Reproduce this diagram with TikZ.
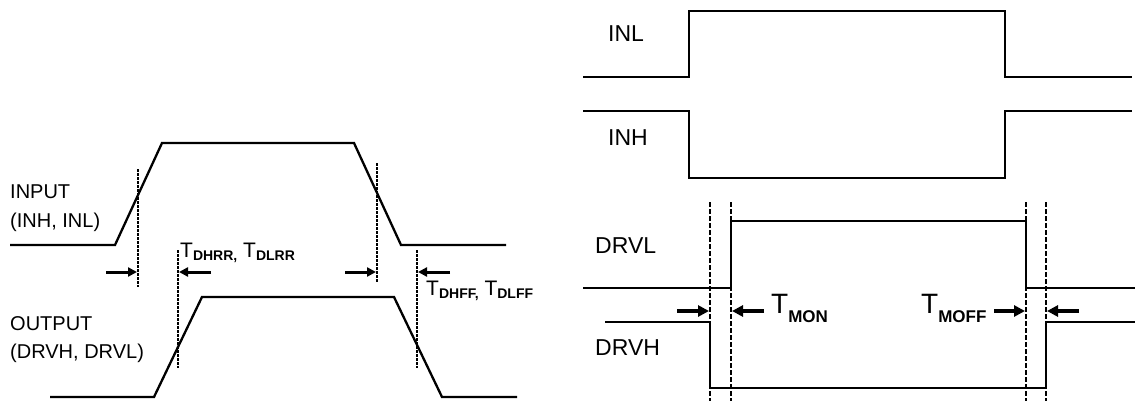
\documentclass[tikz,border=0pt]{standalone}
\usepackage{fontspec}
\setmainfont{Liberation Sans}
\usetikzlibrary{arrows.meta}
\newcommand{\sbx}[3]{\raisebox{-#3}{\fontsize{#2}{#2}\selectfont\bfseries #1}}
\begin{document}
\begin{tikzpicture}[x=1pt,y=-1pt,
  sig/.style={line width=2.3pt, line join=miter},
  sigthin/.style={line width=1.7pt, line join=miter},
  ldash/.style={line width=2.6pt, dash pattern=on 3pt off 1pt},
  rdash/.style={line width=1.4pt, dash pattern=on 4.5pt off 2.5pt},
  larrow/.style={line width=3pt, -{Triangle[length=9pt,width=9pt]}},
  rarrow/.style={line width=3.5pt, -{Triangle[length=11pt,width=11pt]}},
  lbl/.style={anchor=base west, inner sep=0pt, font=\fontsize{20}{24}\selectfont},
  rlbl/.style={anchor=base west, inner sep=0pt, font=\fontsize{23}{27}\selectfont},
  tlbl/.style={anchor=base west, inner sep=0pt, font=\fontsize{21}{24}\selectfont},
  tbig/.style={anchor=base west, inner sep=0pt, font=\fontsize{28}{30}\selectfont},
]
\useasboundingbox (0,0) rectangle (1137,401);

% ---------- left diagram ----------
\draw[sig] (10,245) -- (115,245) -- (162,143) -- (354,143) -- (401,245) -- (506,245);
\draw[sig] (50,397) -- (154,397) -- (202,297) -- (394,297) -- (442,397) -- (517,397);

\coordinate (d1t) at (138,169); \coordinate (d1b) at (138,287);
\coordinate (d2t) at (178,250); \coordinate (d2b) at (178,368);
\coordinate (d3t) at (377,163); \coordinate (d3b) at (377,283);
\coordinate (d4t) at (417,250); \coordinate (d4b) at (417,368);
\draw[ldash] (d1t) -- (d1b);
\draw[ldash] (d2t) -- (d2b);
\draw[ldash] (d3t) -- (d3b);
\draw[ldash] (d4t) -- (d4b);

\coordinate (a1s) at (106,272); \coordinate (a1e) at (137,272);
\coordinate (a2s) at (211,272); \coordinate (a2e) at (179,272);
\coordinate (a3s) at (345,272); \coordinate (a3e) at (376,272);
\coordinate (a4s) at (450,272); \coordinate (a4e) at (418,272);
\draw[larrow] (a1s) -- (a1e);
\draw[larrow] (a2s) -- (a2e);
\draw[larrow] (a3s) -- (a3e);
\draw[larrow] (a4s) -- (a4e);

\node[lbl] (in1) at (10,198) {INPUT};
\node[lbl] (in2) at (10,227) {(INH, INL)};
\node[lbl] (out1) at (10,330) {OUTPUT};
\node[lbl] (out2) at (10,358) {(DRVH, DRVL)};

\node[tlbl] (trr) at (180,257) {T\sbx{DHRR,}{14}{3pt} T\sbx{DLRR}{14}{3pt}};
\node[tlbl] (tff) at (426,295) {T\sbx{DHFF,}{14}{3pt} T\sbx{DLFF}{14}{3pt}};

% ---------- right diagram ----------
\draw[sig] (583,77) -- (689,77) -- (689,11) -- (1005,11) -- (1005,77) -- (1132,77);
\draw[sig] (583,111) -- (689,111) -- (689,178) -- (1005,178) -- (1005,111) -- (1132,111);

\draw[sigthin] (583,288) -- (731,288) -- (731,221) -- (1026,221) -- (1026,288) -- (1135,288);
\draw[sigthin] (605,322) -- (710,322) -- (710,388) -- (1046,388) -- (1046,322) -- (1135,322);

\coordinate (r1t) at (710,202); \coordinate (r1b) at (710,401);
\coordinate (r2t) at (731,202); \coordinate (r2b) at (731,401);
\coordinate (r3t) at (1026,202); \coordinate (r3b) at (1026,401);
\coordinate (r4t) at (1046,202); \coordinate (r4b) at (1046,401);
\draw[rdash] (r1t) -- (r1b);
\draw[rdash] (r2t) -- (r2b);
\draw[rdash] (r3t) -- (r3b);
\draw[rdash] (r4t) -- (r4b);

\coordinate (b1s) at (677,311); \coordinate (b1e) at (709,311);
\coordinate (b2s) at (764,311); \coordinate (b2e) at (732,311);
\coordinate (b3s) at (994,311); \coordinate (b3e) at (1025,311);
\coordinate (b4s) at (1079,311); \coordinate (b4e) at (1047,311);
\draw[rarrow] (b1s) -- (b1e);
\draw[rarrow] (b2s) -- (b2e);
\draw[rarrow] (b3s) -- (b3e);
\draw[rarrow] (b4s) -- (b4e);

\node[rlbl] (inl) at (608,42) {INL};
\node[rlbl] (inh) at (608,146) {INH};
\node[rlbl] (drvl) at (595,253) {DRVL};
\node[rlbl] (drvh) at (595,355) {DRVH};

\node[tbig] (tmon) at (771,313) {T\sbx{MON}{17}{9pt}};
\node[tbig] (tmoff) at (921,313) {T\sbx{MOFF}{17}{9pt}};
\end{tikzpicture}
\end{document}
